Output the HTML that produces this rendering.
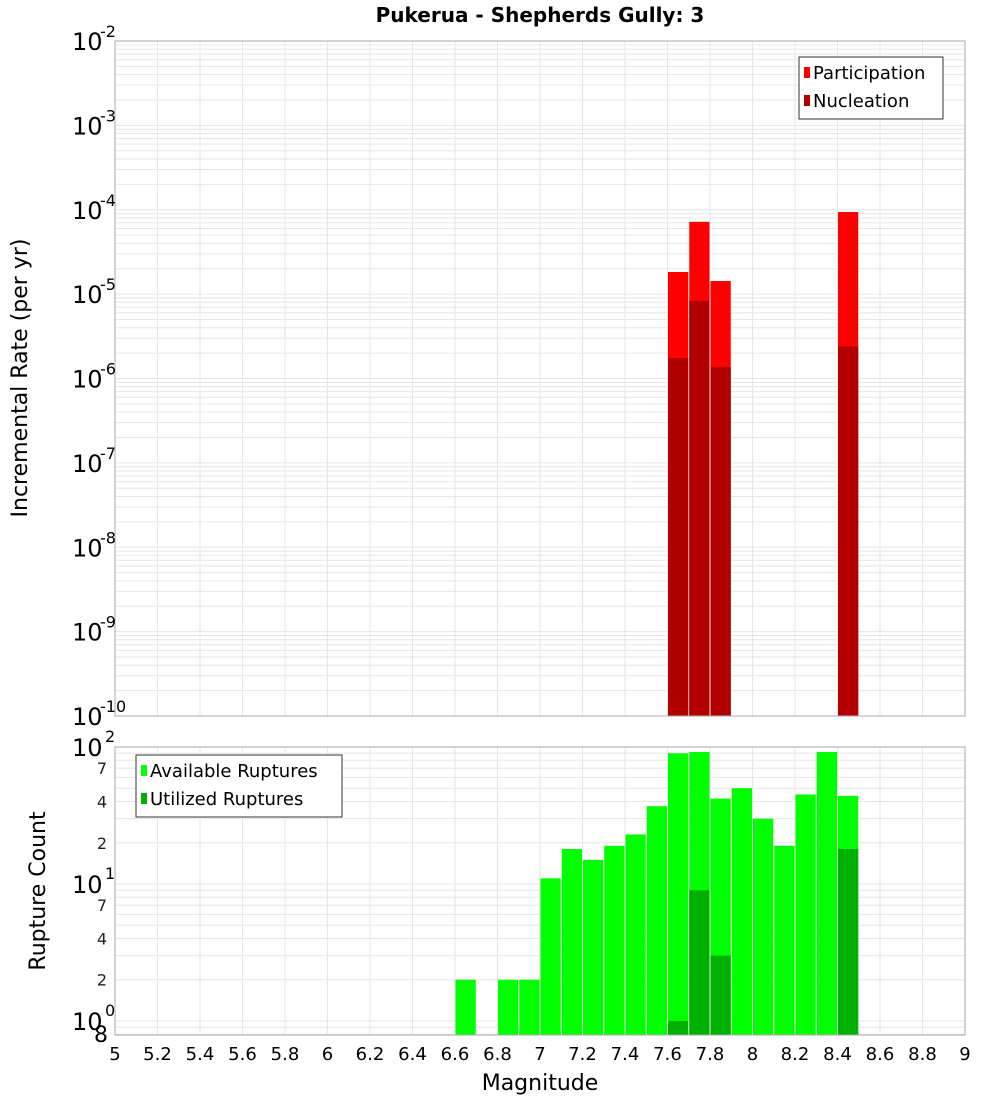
<!DOCTYPE html>
<html><head><meta charset="utf-8"><style>
body{margin:0;background:#fff}
svg{display:block;font-family:"DejaVu Sans","Liberation Sans",sans-serif}
</style></head><body>
<svg id="c" width="1000" height="1100" xmlns="http://www.w3.org/2000/svg">
<text x="540" y="22" text-anchor="middle" font-size="20" font-weight="bold">Pukerua - Shepherds Gully: 3</text>
<text transform="translate(27,378) rotate(-90)" text-anchor="middle" font-size="22">Incremental Rate (per yr)</text>
<text transform="translate(45,891) rotate(-90)" text-anchor="middle" font-size="22">Rupture Count</text>
<text x="540" y="1090" text-anchor="middle" font-size="22">Magnitude</text>
<g id="topPlot"></g><g id="botPlot"></g>
</svg>
<script>
const mags=[7.6,7.7,7.8,8.4];
const participation=[1.83e-5,7.2e-5,1.43e-5,9.4e-5];
const nucleation=[1.75e-6,8.3e-6,1.37e-6,2.4e-6];
const countMags=[6.6,6.8,6.9,7.0,7.1,7.2,7.3,7.4,7.5,7.6,7.7,7.8,7.9,8.0,8.1,8.2,8.3,8.4];
const available=[2,2,2,11,18,15,19,23,37,90,92,42,50,30,19,45,92,44];
const utilMags=[7.6,7.7,7.8,8.4];
const utilized=[1,9,3,18];
const xTicks=[5,5.2,5.4,5.6,5.8,6,6.2,6.4,6.6,6.8,7,7.2,7.4,7.6,7.8,8,8.2,8.4,8.6,8.8,9];
const topDecades=[-2,-3,-4,-5,-6,-7,-8,-9,-10];
const botMinorLabels=[2,4,7,20,40,70];

const NS="http://www.w3.org/2000/svg";
const X0=115,X1=965;
const xs=m=>X0+(m-5)/4*(X1-X0);
const T0=41,T1=716;
const yTop=v=>T0+(-2-Math.log10(v))/8*(T1-T0);
const B0=747,B1=1035,BMIN=0.79;
const yBot=v=>B0+(2-Math.log10(v))/(2-Math.log10(BMIN))*(B1-B0);
function el(p,t,a){const e=document.createElementNS(NS,t);for(const k in a)e.setAttribute(k,a[k]);p.appendChild(e);return e;}
const topG=document.getElementById('topPlot'),botG=document.getElementById('botPlot');

for(let d=-10;d<-2;d++){for(let k=1;k<10;k++){const y=yTop(k*Math.pow(10,d));
const g=el(topG,'line',{x1:X0,x2:X1,y1:y,y2:y,stroke:'#e6e6e6','stroke-width':1});

}}
for(let d=-1;d<2;d++){for(let k=1;k<10;k++){const v=k*Math.pow(10,d);if(v<BMIN)continue;const y=yBot(v);
const g=el(botG,'line',{x1:X0,x2:X1,y1:y,y2:y,stroke:'#e6e6e6','stroke-width':1});

}}
xTicks.forEach(t=>{const x=xs(t);
const a=el(topG,'line',{x1:x,x2:x,y1:T0,y2:T1,stroke:'#e6e6e6'});


const b=el(botG,'line',{x1:x,x2:x,y1:B0,y2:B1,stroke:'#e6e6e6'});


const l=el(botG,'text',{x:x,y:1060,'text-anchor':'middle','font-size':18});
l.textContent=String(t);

});

mags.forEach((m,i)=>{const x=xs(m)+0.5,w=xs(m+0.1)-xs(m)-1;
const p=el(topG,'rect',{x:x,y:yTop(participation[i]),width:w,height:T1-yTop(participation[i]),fill:'#ff0000'});


const n=el(topG,'rect',{x:x,y:yTop(nucleation[i]),width:w,height:T1-yTop(nucleation[i]),fill:'#b20000'});

});
countMags.forEach((m,i)=>{const x=xs(m)+0.5,w=xs(m+0.1)-xs(m)-1;
const r=el(botG,'rect',{x:x,y:yBot(available[i]),width:w,height:B1-yBot(available[i]),fill:'#00ff00'});

});
utilMags.forEach((m,i)=>{const x=xs(m)+0.5,w=xs(m+0.1)-xs(m)-1;
const r=el(botG,'rect',{x:x,y:yBot(utilized[i]),width:w,height:B1-yBot(utilized[i]),fill:'#00b000'});

});

const f1=el(topG,'rect',{x:X0,y:T0,width:X1-X0,height:T1-T0,fill:'none',stroke:'#aaa'});


const f2=el(botG,'rect',{x:X0,y:B0,width:X1-X0,height:B1-B0,fill:'none',stroke:'#aaa'});



topDecades.forEach(d=>{const y=yTop(Math.pow(10,d));
const t=el(topG,'text',{x:72,y:y+9,'font-size':24});
t.textContent='10';


const s=el(topG,'text',{x:100,y:y-4,'font-size':16});
s.textContent=String(d);

});
[[100,'2'],[10,'1'],[1,'0']].forEach(([v,e])=>{const y=yBot(v);
const t=el(botG,'text',{x:72,y:y+9,'font-size':24});
t.textContent='10';


const s=el(botG,'text',{x:105,y:y-5,'font-size':16});
s.textContent=e;

});
botMinorLabels.forEach(v=>{const y=yBot(v);
const t=el(botG,'text',{x:107,y:y+6,'font-size':16,'text-anchor':'end',fill:'#222'});
t.textContent=String(v>=10?v/10:v);

});
const e8=el(botG,'text',{x:108,y:B1+7,'font-size':22,'text-anchor':'end'});
e8.textContent='8';



function legend(p,x,y,w,items,name){const g=el(p,'g',{});


el(g,'rect',{x:x,y:y,width:w,height:items.length*28+6,fill:'#fff',stroke:'#333'});
items.forEach(([c,l],i)=>{el(g,'rect',{x:x+5,y:y+10+i*28,width:6,height:11,fill:c});
const t=el(g,'text',{x:x+14,y:y+22+i*28,'font-size':18});t.textContent=l;});}
legend(topG,799,57,144,[['#ff0000','Participation'],['#b20000','Nucleation']],'top-legend');
legend(botG,136,755,206,[['#00ff00','Available Ruptures'],['#00b000','Utilized Ruptures']],'bottom-legend');
</script>
</body></html>
